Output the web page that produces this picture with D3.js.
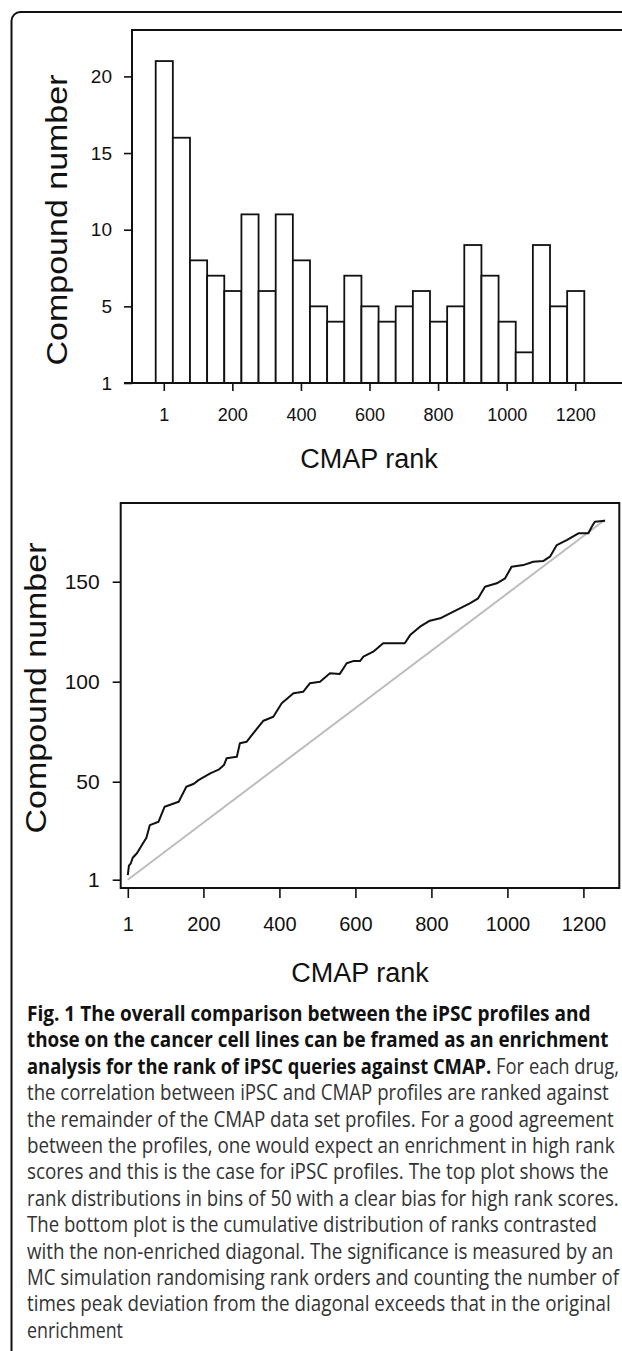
<!DOCTYPE html>
<html>
<head>
<meta charset="utf-8">
<title>CMAP rank enrichment</title>
<script src="https://cdn.jsdelivr.net/npm/d3@7"></script>
<style>
  body { margin: 0; background: #fff; }
  text { font-family: "Liberation Sans", Arial, Helvetica, sans-serif; fill: #111; }
  .cap { font-family: "Open Sans", sans-serif; fill: #222; }
</style>
</head>
<body>
<div id="fig"></div>
<script>
// top plot: compounds per bin of 50 ranks
var binCounts = [21, 16, 8, 7, 6, 11, 6, 11, 8, 5, 4, 7, 5, 4, 5, 6, 4, 5, 9, 7, 4, 2, 9, 5, 6];
var binTickIdx = [0, 4, 8, 12, 16, 20, 24];
var rankLabels = ["1", "200", "400", "600", "800", "1000", "1200"];
var histYTicks = [0, 5, 10, 15, 20];
var histYLabels = ["1", "5", "10", "15", "20"];

// bottom plot: cumulative count vs rank
var cumRank = [1, 4, 9, 14, 25, 41, 50, 59, 82, 98, 120, 135, 155, 175, 187, 218, 240, 254, 261, 288,
  296, 314, 331, 358, 384, 406, 437, 463, 480, 507, 533, 559, 577, 594, 612, 621, 647, 673, 730, 744,
  770, 796, 823, 849, 875, 901, 923, 941, 972, 994, 1011, 1042, 1068, 1094, 1112, 1130, 1156, 1187,
  1213, 1222, 1230, 1257];
var cumCount = [3.3, 8, 9.2, 12, 14.2, 19.2, 22, 28.3, 30, 37.5, 39, 40, 47.5, 49, 50.8, 54.2, 56, 58.3, 61.7, 62.5,
  69.2, 70, 74.2, 80.5, 82.5, 89.2, 94.2, 95, 99.2, 100, 104.2, 103.9, 109.2, 110.3, 110.3, 112.5, 115, 119.2, 119.2, 123.3,
  127.5, 130.5, 131.7, 134.2, 136.7, 139.2, 141.7, 147.5, 149.2, 151.7, 157.5, 158.3, 160, 160.3, 162.5, 168.3, 170.8, 174.2,
  174.2, 177.5, 180, 180.5];
var diagRank = [1, 1257];
var diagCount = [1, 181];
var rankTicks = [1, 200, 400, 600, 800, 1000, 1200];
var countTicks = [1, 50, 100, 150];

// caption, each line as [text, bold] pieces
var captionLines = [
  [["Fig. 1 The overall comparison between the iPSC profiles and", true]],
  [["those on the cancer cell lines can be framed as an enrichment", true]],
  [["analysis for the rank of iPSC queries against CMAP.", true], [" For each drug,", false]],
  [["the correlation between iPSC and CMAP profiles are ranked against", false]],
  [["the remainder of the CMAP data set profiles. For a good agreement", false]],
  [["between the profiles, one would expect an enrichment in high rank", false]],
  [["scores and this is the case for iPSC profiles. The top plot shows the", false]],
  [["rank distributions in bins of 50 with a clear bias for high rank scores.", false]],
  [["The bottom plot is the cumulative distribution of ranks contrasted", false]],
  [["with the non-enriched diagonal. The significance is measured by an", false]],
  [["MC simulation randomising rank orders and counting the number of", false]],
  [["times peak deviation from the diagonal exceeds that in the original", false]],
  [["enrichment", false]]
];
var captionRight = [591, 609, 619, 609, 614, 615, 609, 619, 597, 614, 619, 611, 123];

var W = 622, H = 1351;
var svg = d3.select("#fig").append("svg").attr("width", W).attr("height", H);
svg.append("rect").attr("width", W).attr("height", H).attr("fill", "#fff");

// outer panel (runs off the right and bottom)
svg.append("rect")
  .attr("x", 11.5).attr("y", 12).attr("width", 700).attr("height", 1400).attr("rx", 9)
  .attr("fill", "none").attr("stroke", "#111").attr("stroke-width", 2);

function styleAxis(g) {
  g.select(".domain").remove();
  g.selectAll(".tick line").attr("stroke", "#111").attr("stroke-width", 1.6);
  g.selectAll(".tick text").attr("fill", "#111").style("font-family", "Liberation Sans, Arial, sans-serif");
}

// ---------- top: histogram ----------
var hx = d3.scaleBand().domain(d3.range(binCounts.length)).range([155.7, 584.3]);
var hy = d3.scaleLinear().domain([0, 20]).range([383, 76.4]);

var histG = svg.append("g");
histG.append("rect").attr("x", 132).attr("y", 30).attr("width", 520).attr("height", 353)
  .attr("fill", "none").attr("stroke", "#111").attr("stroke-width", 2);

histG.selectAll(".bar").data(binCounts).enter().append("rect")
  .attr("class", "bar")
  .attr("x", function(d, i) { return hx(i); })
  .attr("y", function(d) { return hy(d); })
  .attr("width", hx.bandwidth())
  .attr("height", function(d) { return hy(0) - hy(d); })
  .attr("fill", "#fff").attr("stroke", "#111").attr("stroke-width", 1.8);

histG.append("line").attr("x1", 124).attr("x2", 640).attr("y1", 383).attr("y2", 383)
  .attr("stroke", "#111").attr("stroke-width", 2);

histG.append("g").attr("transform", "translate(132,0)")
  .call(d3.axisLeft(hy).tickValues(histYTicks).tickFormat(function(d, i) { return histYLabels[i]; })
    .tickSize(8).tickPadding(12))
  .call(styleAxis)
  .selectAll(".tick text").attr("font-size", 19);

histG.append("g").attr("transform", "translate(0,383)")
  .call(d3.axisBottom(hx).tickValues(binTickIdx).tickFormat(function(d, i) { return rankLabels[i]; })
    .tickSize(8).tickPadding(17))
  .call(styleAxis)
  .selectAll(".tick text").attr("font-size", 18);

histG.append("text").attr("x", 369).attr("y", 468).attr("text-anchor", "middle")
  .attr("font-size", 27).text("CMAP rank");
histG.append("text").attr("transform", "translate(66.7,220) scale(0.88,1) rotate(-90)")
  .attr("text-anchor", "middle").attr("font-size", 34).text("Compound number");

// ---------- bottom: cumulative ----------
var cx = d3.scaleLinear().domain([1, 1200]).range([127.8, 583.4]);
var cy = d3.scaleLinear().domain([0, 150]).range([881.7, 581.7]);

var cumG = svg.append("g");
cumG.append("rect").attr("x", 120.7).attr("y", 503).attr("width", 498.6).attr("height", 385)
  .attr("fill", "none").attr("stroke", "#111").attr("stroke-width", 2);

var line = d3.line().x(function(d) { return cx(d[0]); }).y(function(d) { return cy(d[1]); });

cumG.append("path").datum(d3.zip(diagRank, diagCount))
  .attr("d", line).attr("fill", "none").attr("stroke", "#bdbdbd").attr("stroke-width", 2);
cumG.append("path").datum(d3.zip(cumRank, cumCount))
  .attr("d", line).attr("fill", "none").attr("stroke", "#111").attr("stroke-width", 2)
  .attr("stroke-linejoin", "round");

cumG.append("g").attr("transform", "translate(120.7,0)")
  .call(d3.axisLeft(cy).tickValues(countTicks).tickFormat(d3.format("d")).tickSize(8).tickPadding(13))
  .call(styleAxis)
  .selectAll(".tick text").attr("font-size", 21);

cumG.append("g").attr("transform", "translate(0,888)")
  .call(d3.axisBottom(cx).tickValues(rankTicks).tickFormat(d3.format("d")).tickSize(10).tickPadding(19))
  .call(styleAxis)
  .selectAll(".tick text").attr("font-size", 20);

cumG.append("text").attr("x", 360).attr("y", 982).attr("text-anchor", "middle")
  .attr("font-size", 27).text("CMAP rank");
cumG.append("text").attr("transform", "translate(46,688) scale(0.88,1) rotate(-90)")
  .attr("text-anchor", "middle").attr("font-size", 34).text("Compound number");

// ---------- caption ----------
// each line is squeezed horizontally so it ends where the printed line ends
var cap = svg.append("g").attr("class", "caption");
captionLines.forEach(function(parts, i) {
  var t = cap.append("text").attr("class", "cap").attr("font-size", 21);
  parts.forEach(function(p) {
    t.append("tspan").attr("font-weight", p[1] ? "700" : "400")
      .style("fill", p[1] ? "#111" : "#333")
      .attr("xml:space", "preserve").text(p[0]);
  });
  var natural = t.node().getComputedTextLength();
  var sx = (captionRight[i] - 27) / natural;
  t.attr("transform", "translate(27," + (1021 + i * 26.4) + ") scale(" + sx + ",1)");
});
</script>
</body>
</html>
